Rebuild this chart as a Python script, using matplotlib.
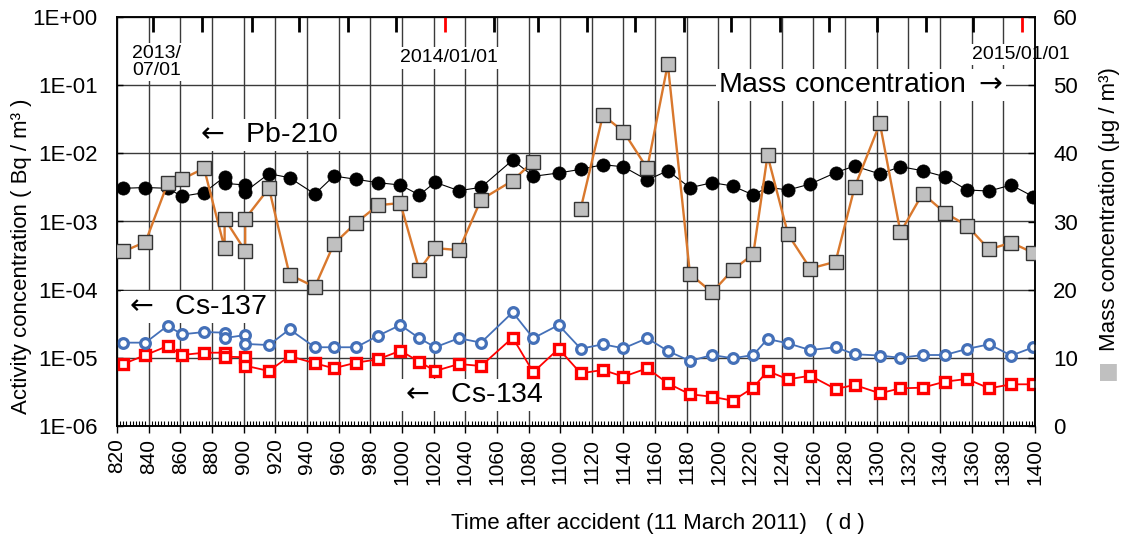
import numpy as np
import pandas as pd
import matplotlib
matplotlib.use("Agg")
import matplotlib.pyplot as plt
from matplotlib.ticker import MultipleLocator, NullLocator

plt.rcParams['font.family'] = ['Liberation Sans', 'DejaVu Sans']
plt.rcParams['mathtext.fontset'] = 'dejavusans'

# ---------------- data ----------------
days = [824, 838, 852, 861, 875, 888, 888, 901, 901, 916, 929, 945, 957, 971, 985,
        999, 1011, 1021, 1036, 1050, 1070, 1083, 1099, 1113, 1127, 1140, 1155, 1168,
        1182, 1196, 1209, 1222, 1231, 1244, 1258, 1274, 1286, 1302, 1315, 1329, 1343,
        1357, 1371, 1385, 1399]

pb210 = [3.07e-3, 3.15e-3, 3.07e-3, 2.34e-3, 2.65e-3, 4.54e-3, 3.63e-3, 3.43e-3, 2.74e-3,
         5.03e-3, 4.39e-3, 2.53e-3, 4.65e-3, 4.16e-3, 3.71e-3, 3.43e-3, 2.45e-3, 3.76e-3,
         2.83e-3, 3.17e-3, 7.98e-3, 4.60e-3, 5.15e-3, 5.83e-3, 6.81e-3, 6.35e-3, 4.06e-3,
         5.56e-3, 3.13e-3, 3.71e-3, 3.32e-3, 2.45e-3, 3.18e-3, 2.90e-3, 3.55e-3, 5.20e-3,
         6.52e-3, 4.98e-3, 6.37e-3, 5.56e-3, 4.54e-3, 2.90e-3, 2.80e-3, 3.43e-3, 2.31e-3]

mass = [25.6, 27.0, 35.6, 36.2, 37.8, 26.1, 30.4, 25.7, 30.4, 34.9, 22.2, 20.4, 26.7,
        29.8, 32.4, 32.7, 22.9, 26.1, 25.8, 33.2, 36.0, 38.8, np.nan, 31.9, 45.6, 43.2,
        37.8, 53.1, 22.3, 19.6, 22.9, 25.2, 39.7, 28.1, 23.1, 24.1, 35.0, 44.4, 28.4,
        34.1, 31.3, 29.4, 25.9, 26.9, 25.4]

cs137 = [1.67e-5, 1.67e-5, 2.96e-5, 2.21e-5, 2.39e-5, 2.34e-5, 1.95e-5, 2.16e-5, 1.60e-5,
         1.54e-5, 2.62e-5, 1.43e-5, 1.43e-5, 1.43e-5, 2.11e-5, 3.03e-5, 1.94e-5, 1.43e-5,
         1.94e-5, 1.67e-5, 4.66e-5, 1.94e-5, 3.03e-5, 1.36e-5, 1.58e-5, 1.38e-5, 1.94e-5,
         1.26e-5, 8.99e-6, 1.10e-5, 9.85e-6, 1.10e-5, 1.89e-5, 1.63e-5, 1.30e-5, 1.43e-5,
         1.13e-5, 1.08e-5, 1.00e-5, 1.10e-5, 1.10e-5, 1.35e-5, 1.58e-5, 1.08e-5, 1.43e-5]

cs134 = [8.12e-6, 1.10e-5, 1.49e-5, 1.10e-5, 1.19e-5, 1.19e-5, 1.04e-5, 1.02e-5, 7.67e-6,
         6.41e-6, 1.06e-5, 8.32e-6, 7.03e-6, 8.49e-6, 9.52e-6, 1.27e-5, 8.78e-6, 6.41e-6,
         8.12e-6, 7.59e-6, 1.98e-5, 6.14e-6, 1.36e-5, 5.93e-6, 6.64e-6, 5.29e-6, 7.03e-6,
         4.23e-6, 2.92e-6, 2.69e-6, 2.35e-6, 3.65e-6, 6.41e-6, 4.84e-6, 5.47e-6, 3.49e-6,
         4.00e-6, 3.02e-6, 3.57e-6, 3.65e-6, 4.47e-6, 4.90e-6, 3.57e-6, 4.09e-6, 4.09e-6]

x_ticks = list(range(820, 1401, 20))
y_left_ticks = [1e0, 1e-1, 1e-2, 1e-3, 1e-4, 1e-5, 1e-6]
y_left_labels = ["1E+00", "1E-01", "1E-02", "1E-03", "1E-04", "1E-05", "1E-06"]
y_right_ticks = [0, 10, 20, 30, 40, 50, 60]

accident_date = "2011-03-11"
month_starts = pd.date_range("2013-07-01", "2015-01-01", freq="MS")
date_labels = [("2013/\n07/01", "2013-07-01"), ("2014/01/01", "2014-01-01"),
               ("2015/01/01", "2015-01-01")]

# ---------------- figure ----------------
W, H = 1124, 542
fig = plt.figure(figsize=(W / 100, H / 100), dpi=100)
ax = fig.add_axes([117 / W, 1 - 426 / H, 918 / W, 409 / H])
ax2 = ax.twinx()

ax.set_xlim(820, 1400)
ax.set_yscale('log')
ax.set_ylim(1e-6, 1)
ax2.set_ylim(0, 60)

ax.set_axisbelow(True)
ax.grid(True, which='major', color='#3a3a3a', lw=1.0)

ax.set_xticks(x_ticks)
ax.set_xticklabels([str(v) for v in x_ticks])
ax.xaxis.set_minor_locator(MultipleLocator(2))
ax.tick_params(axis='x', which='major', direction='out', length=5, width=1,
               labelsize=15, labelrotation=90, pad=4)
ax.tick_params(axis='x', which='minor', direction='in', length=3.5, width=0.8)

ax.set_yticks(y_left_ticks)
ax.set_yticklabels(y_left_labels)
ax.yaxis.set_minor_locator(NullLocator())
ax.tick_params(axis='y', which='major', direction='in', length=4, width=1,
               labelsize=16, pad=14)

ax2.set_yticks(y_right_ticks)
ax2.set_yticklabels([str(v) for v in y_right_ticks])
ax2.tick_params(axis='y', direction='in', length=5, width=1, labelsize=16, pad=13)

for a in (ax, ax2):
    for s in a.spines.values():
        s.set_linewidth(1.1)
        s.set_color('black')

# series
ax.plot(days, cs134, color='#ff0000', lw=1.3, marker='s', ms=6.5, mfc='white',
        mec='#ff0000', mew=2.4, zorder=3)
ax.plot(days, cs137, color='#4470b8', lw=1.3, marker='o', ms=7, mfc='white',
        mec='#4470b8', mew=2.3, zorder=3)
ax.plot(days, pb210, color='black', lw=0.8, marker='o', ms=9.5, mfc='black',
        mec='black', mew=0.5, zorder=4)
ax2.plot(days, mass, color='#d9782d', lw=1.7, marker='s', ms=9.5, mfc='#c0c0c0',
         mec='#333333', mew=1.0, zorder=5)

# month ticks on top
acc = pd.Timestamp(accident_date)
mdays = (month_starts - acc).days
mcolors = ['#ff0000' if m.month == 1 else 'black' for m in month_starts]
ax.vlines(mdays, 1 - 15 / 409, 1, transform=ax.get_xaxis_transform(),
          colors=mcolors, lw=2, clip_on=False, zorder=6)

# date labels
bb = dict(facecolor='white', edgecolor='none', pad=1.5)
tr = ax.get_xaxis_transform()
ax.text((pd.Timestamp(date_labels[0][1]) - acc).days - 13.5, 0.89, date_labels[0][0],
        transform=tr, ha='left', va='center', fontsize=14, linespacing=1.05,
        bbox=bb, zorder=2)
ax.text((pd.Timestamp(date_labels[1][1]) - acc).days + 3, 0.9, date_labels[1][0],
        transform=tr, ha='center', va='center', fontsize=14, bbox=bb, zorder=2)
ax.text((pd.Timestamp(date_labels[2][1]) - acc).days - 1, 0.908, date_labels[2][0],
        transform=tr, ha='center', va='center', fontsize=14, bbox=bb, zorder=2)

# annotations
bb2 = dict(facecolor='white', edgecolor='none', pad=2)
ax.text(869.5, 1.86e-2, r"$\leftarrow$  Pb-210", ha='left', va='center', fontsize=20.5,
        bbox=bb2, zorder=2)
ax.text(1200, 1e-1, r"Mass concentration $\rightarrow$", ha='left', va='center',
        fontsize=20.5, bbox=bb2, zorder=2)
ax.text(824.5, 5.6e-5, r"$\leftarrow$  Cs-137", ha='left', va='center', fontsize=20.5,
        bbox=bb2, zorder=2)
ax.text(998.5, 2.85e-6, r"$\leftarrow$  Cs-134", ha='left', va='center', fontsize=20.5,
        bbox=bb2, zorder=2)

# axis labels
fig.text(22 / W, 1 - 256 / H, "Activity concentration ( Bq / m³ )", rotation=90,
         ha='center', va='center', fontsize=16)
fig.text(658 / W, 1 - 524 / H, "Time after accident (11 March 2011)   ( d )",
         ha='center', va='center', fontsize=16)
fig.text(1109 / W, 1 - 209 / H, "Mass concentration (μg / m³)", rotation=90,
         ha='center', va='center', fontsize=16)
fig.text(1106 / W, 1 - 370 / H, "■", rotation=90, ha='center', va='center',
         fontsize=16, color='#c0c0c0', family=['DejaVu Sans'])

fig.savefig("out.png", dpi=100)
